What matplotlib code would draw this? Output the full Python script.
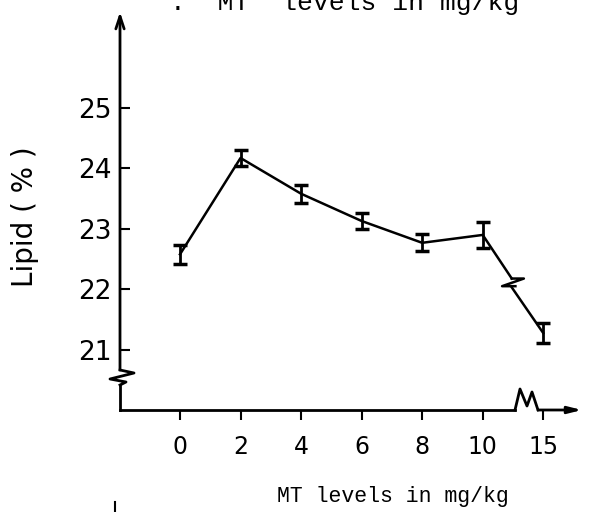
import matplotlib
matplotlib.use('Agg')
import matplotlib.pyplot as plt
from matplotlib.lines import Line2D

# Dane
dawki = ['0', '2', '4', '6', '8', '10', '15']
lipid = [22.58, 24.17, 23.58, 23.13, 22.77, 22.9, 21.28]
blad = [0.16, 0.14, 0.15, 0.13, 0.14, 0.22, 0.16]
y_ticki = [21, 22, 23, 24, 25]

fig = plt.figure(figsize=(5.89, 5.12), dpi=100)
W, H = 589, 512
# osie: lewa krawędź 120 px, dół 410 px, góra 12 px, prawa 582 px
ax = fig.add_axes([120 / W, (H - 410) / H, (582 - 120) / W, (410 - 12) / H])
ax.set_xlim(-0.991, 6.64)
ax.set_ylim(20.01, 26.58)
for s in ax.spines.values():
    s.set_visible(False)

x = list(range(len(dawki)))
kol = 'black'

# linia z przerwą między 10 a 15
mx = (x[5] + x[6]) / 2
my = (lipid[5] + lipid[6]) / 2
dy = 0.09
ax.plot(x[:6] + [mx - 0.02], lipid[:6] + [my + dy], color=kol, lw=1.8)
ax.plot([mx - 0.02, mx + 0.18, mx - 0.18, mx + 0.04],
        [my + dy, my + dy, my - dy * 0.4, my - dy * 0.4], color=kol, lw=1.8)
ax.plot([mx - 0.02, x[6]], [my - dy * 0.4 - 0.02, lipid[6]], color=kol, lw=1.8)
ax.errorbar(x, lipid, yerr=blad, fmt='none', ecolor=kol, elinewidth=2,
            capsize=5, capthick=2.5)

ax.set_xticks(x)
ax.set_xticklabels(dawki)
ax.set_yticks(y_ticki)
ax.set_yticklabels([str(v) for v in y_ticki])
ax.tick_params(axis='x', direction='out', length=7, width=1.5, pad=11,
               labelsize=17)
ax.tick_params(axis='y', direction='in', length=7, width=1.5, pad=6,
               labelsize=19)

ax.set_ylabel('Lipid ( % )', fontsize=20)
ax.yaxis.set_label_coords(-0.175, 0.485)
ax.set_xlabel('MT levels in mg/kg', family='Liberation Mono', fontsize=15.5)
ax.xaxis.set_label_coords(0.591, -0.19)

# osie ze strzałkami i przerwami
tr = ax.transAxes
pw, ph = 582 - 120, 410 - 12
def px(a, b):
    return a / pw, b / ph

lw = 2
# oś Y
ax.plot([0, 0], [0, 25 / ph], color=kol, lw=lw, transform=tr, clip_on=False)
zx, zy = zip(px(0, 25), px(6, 28), px(-10, 31), px(14, 37), px(0, 40))
ax.plot(zx, zy, color=kol, lw=lw, transform=tr, clip_on=False)
ax.annotate('', xy=(0, 1), xytext=(0, 40 / ph), xycoords=tr,
            arrowprops=dict(arrowstyle='->,head_length=0.9,head_width=0.3',
                            color=kol, lw=lw, shrinkA=0, shrinkB=0))
# oś X
ax.plot([0, 395 / pw], [0, 0], color=kol, lw=lw, transform=tr, clip_on=False)
zx, zy = zip(px(395, 0), px(400, 21), px(407, 4), px(412, 18), px(418, 0))
ax.plot(zx, zy, color=kol, lw=lw, transform=tr, clip_on=False)
ax.annotate('', xy=(1, 0), xytext=(418 / pw, 0), xycoords=tr,
            arrowprops=dict(arrowstyle='-|>,head_length=0.8,head_width=0.2',
                            color=kol, lw=lw, shrinkA=0, shrinkB=0))

# ucięty tekst u góry (jak w oryginale) i fragment kreski na dole
fig.text(345 / W, 1 - 10 / H, '.  MT  levels in mg/kg', family='Liberation Mono',
         fontsize=19, ha='center', va='baseline')
fig.add_artist(Line2D([115 / W, 115 / W], [0, 10 / H], color=kol, lw=1.5))

fig.savefig('out.png', dpi=100)
